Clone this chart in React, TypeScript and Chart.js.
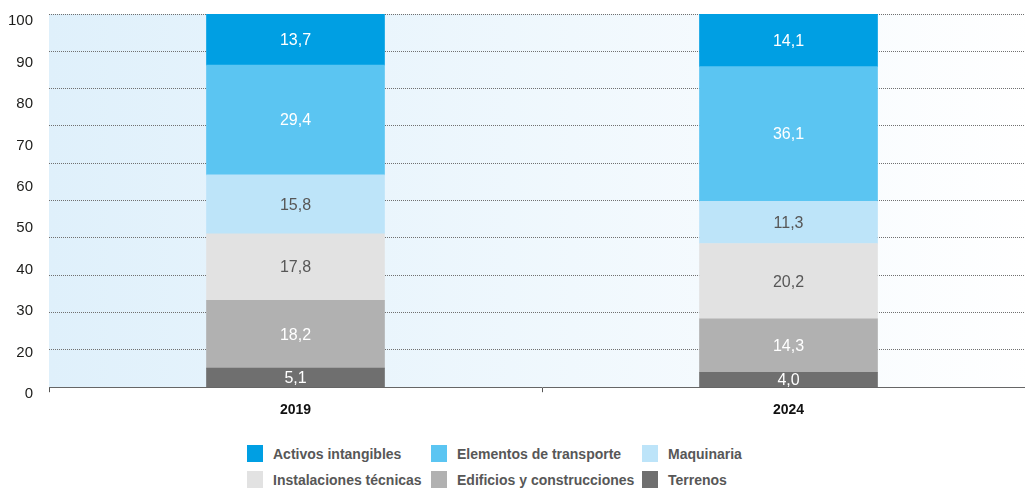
import { useEffect, useRef } from 'react';
import { Chart, registerables } from 'chart.js';

Chart.register(...registerables);

const years = ['2019', '2024'];
const yTickLabels = ['100', '90', '80', '70', '60', '50', '40', '30', '20', '0'];

// stacked bottom -> top
const terrenos = [5.1, 4.0];
const edificios = [18.2, 14.3];
const instalaciones = [17.8, 20.2];
const maquinaria = [15.8, 11.3];
const elementos = [29.4, 36.1];
const activos = [13.7, 14.1];

const seriesNames = [
  'Terrenos',
  'Edificios y construcciones',
  'Instalaciones técnicas',
  'Maquinaria',
  'Elementos de transporte',
  'Activos intangibles',
];
const seriesData = [terrenos, edificios, instalaciones, maquinaria, elementos, activos];
const seriesColors = ['#6f6f6f', '#b1b1b1', '#e2e2e2', '#bde4f9', '#5bc5f2', '#009fe3'];
const valueTextColors = ['#ffffff', '#ffffff', '#575757', '#575757', '#ffffff', '#ffffff'];

// legend order as shown (rows of three)
const legendOrder = [5, 4, 3, 2, 1, 0];

const FONT = '"Liberation Sans", Arial, Helvetica, sans-serif';

const backgroundPlugin = {
  id: 'bgGradient',
  beforeDraw(chart: any) {
    const { ctx, chartArea } = chart;
    if (!chartArea) return;
    const g = ctx.createLinearGradient(chartArea.left, 0, chartArea.right, 0);
    g.addColorStop(0, 'rgb(223,240,251)');
    g.addColorStop(1, 'rgb(255,255,255)');
    ctx.save();
    ctx.fillStyle = g;
    ctx.fillRect(chartArea.left, chartArea.top, chartArea.right - chartArea.left, chartArea.bottom - chartArea.top);
    ctx.restore();
  },
};

const valueLabelsPlugin = {
  id: 'valueLabels',
  afterDatasetsDraw(chart: any) {
    const ctx = chart.ctx;
    ctx.save();
    ctx.font = `16px ${FONT}`;
    ctx.textAlign = 'center';
    ctx.textBaseline = 'middle';
    chart.data.datasets.forEach((ds: any, di: number) => {
      const meta = chart.getDatasetMeta(di);
      meta.data.forEach((bar: any, i: number) => {
        const { x, y, base } = bar.getProps(['x', 'y', 'base'], true);
        const v = ds.data[i] as number;
        ctx.fillStyle = valueTextColors[di];
        ctx.fillText(v.toFixed(1).replace('.', ','), x, (y + base) / 2 + 1);
      });
    });
    ctx.restore();
  },
};

export default function App() {
  const canvasRef = useRef<HTMLCanvasElement | null>(null);

  useEffect(() => {
    document.body.style.margin = '0';
    const canvas = canvasRef.current;
    if (!canvas) return;
    const chart = new Chart(canvas, {
      type: 'bar',
      data: {
        labels: years,
        datasets: seriesNames.map((name, i) => ({
          label: name,
          data: seriesData[i],
          backgroundColor: seriesColors[i],
          borderWidth: 0,
          barThickness: 178,
          yAxisID: 'y',
        })),
      },
      options: {
        animation: false,
        responsive: true,
        maintainAspectRatio: false,
        layout: { padding: { left: 8, top: 14, right: 0, bottom: 1 } },
        plugins: {
          legend: { display: false },
          tooltip: { enabled: false },
        },
        scales: {
          x: {
            stacked: true,
            offset: true,
            grid: {
              display: true,
              offset: true,
              drawOnChartArea: false,
              drawTicks: true,
              tickLength: 5,
              color: '#555555',
            },
            border: { display: true, color: '#666666', width: 1 },
            ticks: {
              padding: 10,
              color: '#111111',
              font: { family: FONT, size: 14, weight: 'bold' },
            },
          },
          y: {
            type: 'linear',
            stacked: true,
            position: 'left',
            min: 0,
            max: 100,
            ticks: { display: false, stepSize: 10 },
            grid: { color: '#707070', lineWidth: 1, drawTicks: false },
            border: { display: false, dash: [1, 1] },
            afterFit: (s: any) => {
              s.width = 0;
              s.paddingTop = 0;
              s.paddingBottom = 0;
            },
          },
          yl: {
            type: 'category',
            labels: yTickLabels,
            position: 'left',
            offset: false,
            grid: { display: false, drawTicks: false },
            border: { display: false },
            ticks: {
              padding: 16,
              labelOffset: 7,
              color: '#1d1d1b',
              font: { family: FONT, size: 15 },
              autoSkip: false,
            },
            afterFit: (s: any) => {
              s.width = 41;
              s.paddingTop = 0;
              s.paddingBottom = 0;
            },
          },
        } as any,
      },
      plugins: [backgroundPlugin, valueLabelsPlugin],
    });
    return () => chart.destroy();
  }, []);

  return (
    <div style={{ position: 'relative', width: 1025, height: 492, background: '#ffffff', overflow: 'hidden' }}>
      <div style={{ position: 'absolute', left: 0, top: 0, width: 1035, height: 430 }}>
        <canvas ref={canvasRef} />
      </div>
      <div
        style={{
          position: 'absolute',
          left: 247,
          top: 445,
          display: 'grid',
          gridTemplateColumns: '184px 211px auto',
          rowGap: 9,
          fontFamily: FONT,
          fontWeight: 'bold',
          fontSize: 14,
          color: '#575757',
        }}
      >
        {legendOrder.map((idx) => (
          <div key={idx} style={{ display: 'flex', alignItems: 'center', height: 17, whiteSpace: 'nowrap' }}>
            <span
              style={{
                display: 'inline-block',
                width: 16,
                height: 17,
                background: seriesColors[idx],
                marginRight: 10,
                flex: '0 0 auto',
              }}
            />
            <span>{seriesNames[idx]}</span>
          </div>
        ))}
      </div>
    </div>
  );
}
